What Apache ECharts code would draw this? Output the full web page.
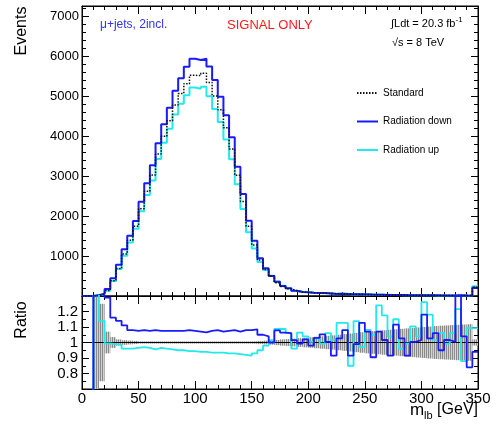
<!DOCTYPE html>
<html>
<head>
<meta charset="utf-8">
<script src="https://cdn.jsdelivr.net/npm/echarts@6/dist/echarts.min.js"></script>
<style>html,body{margin:0;padding:0;background:#fff;}#c{width:502px;height:428px;}</style>
</head>
<body>
<div id="c"></div>
<script>
// ---- data (5 GeV bins from 0 to 350 GeV, last bin includes overflow) ----
const xMin = 0;
const binWidth = 5;
const standard = [0,0,12,40,135,381,687,1051,1396,1744,2183,2620,3025,3551,3993,4380,4775,5062,5308,5516,
  5514,5568,5340,5000,4654,4205,3676,3021,2361,1744,1275,897,665,500,332,235,181,131,100,90,
  82,76,70,64,58,53,49,45,41,38,35,32,30,28,26,24,22,21,19,18,17,16,15,14,13,12,12,11,10,221];
const radDown = [0,0,20,60,175,442,783,1167,1508,1875,2358,2817,3267,3817,4292,4708,5133,5442,5733,5930,
  5900,5930,5740,5400,4980,4520,3970,3233,2550,1883,1383,942,692,500,358,250,192,133,100,92,
  80,78,74,64,53,54,53,41,41,43,37,29,32,28,24,27,23,19,19,18,20,16,16,13,13,12,16,11,8,208];
const radUp = [0,0,25,46,134,377,677,1009,1340,1683,2118,2528,2889,3427,3833,4183,4536,4809,5016,5213,
  5183,5234,4993,4675,4352,3910,3419,2795,2172,1596,1186,852,652,508,361,255,192,126,107,94,
  82,78,70,68,59,60,55,38,47,37,38,34,37,33,27,28,21,21,21,19,21,19,15,15,13,13,15,10,11,242];
const ratioDown = [0,0,1.6,1.5,1.29,1.16,1.14,1.11,1.08,1.075,1.08,1.075,1.08,1.075,1.075,1.075,1.075,1.075,1.08,1.075,
  1.07,1.065,1.075,1.08,1.07,1.075,1.08,1.07,1.08,1.08,1.085,1.05,1.04,1.0,1.078,1.064,1.06,1.015,0.993,1.02,
  0.98,1.03,1.053,1.004,0.915,1.027,1.08,0.915,0.99,1.127,1.07,0.905,1.07,1.016,0.915,1.115,1.027,0.915,1.004,1.016,
  1.18,1.027,1.06,0.95,1.016,1.004,1.30,1.04,0.84,0.94];
const ratioUp = [0,0,1.6,1.14,0.995,0.99,0.985,0.96,0.96,0.965,0.97,0.965,0.955,0.965,0.96,0.955,0.95,0.95,0.945,0.945,
  0.94,0.94,0.935,0.935,0.935,0.93,0.93,0.925,0.92,0.915,0.93,0.95,0.98,1.015,1.087,1.087,1.06,0.96,1.064,1.04,
  1.005,1.027,0.993,1.06,1.015,1.127,1.127,0.85,1.138,0.97,1.082,1.05,1.24,1.175,1.04,1.15,0.96,0.993,1.104,1.04,
  1.26,1.18,1.015,1.06,0.993,1.06,1.215,0.88,1.093,1.093];
const statErr = [0,0,0.6,0.25,0.07,0.035,0.02,0.015,0.012,0.01,0.007,0.007,0.007,0.007,0.007,0.007,0.007,0.007,0.007,0.007,
  0.007,0.007,0.007,0.007,0.007,0.007,0.007,0.007,0.007,0.007,0.008,0.01,0.012,0.014,0.017,0.02,0.022,0.025,0.028,0.031,
  0.034,0.037,0.04,0.043,0.046,0.05,0.054,0.058,0.062,0.066,0.07,0.073,0.076,0.079,0.082,0.085,0.088,0.091,0.094,0.097,
  0.1,0.103,0.106,0.108,0.11,0.112,0.114,0.116,0.118,0.02];
const legendNames = ['Standard','Radiation down','Radiation up'];

const FONT = 'Liberation Sans, Arial, sans-serif';
const BLUE = '#1a1aff', CYAN = '#22eaea';

function toStep(arr){
  const d = arr.map((v,k)=>[xMin + k*binWidth, v]);
  d.push([xMin + arr.length*binWidth, arr[arr.length-1]]);
  return d;
}
const bandData = statErr.map((e,k)=>[xMin+k*binWidth, xMin+(k+1)*binWidth, 1-e, 1+e]).filter(d=>d[3]>d[2]);

// hatch pattern
const pc = document.createElement('canvas');
pc.width = 2; pc.height = 2;
const pctx = pc.getContext('2d');
pctx.fillStyle = '#d2d2d2'; pctx.fillRect(0,0,2,2);
pctx.fillStyle = '#8a8a8a'; pctx.fillRect(0,0,1,2);

const chart = echarts.init(document.getElementById('c'), null, {renderer:'canvas'});

const tickCommon = {inside:true, length:8, lineStyle:{color:'#000', width:1}};
const minorCommon = {show:true, length:4, lineStyle:{color:'#000', width:1}};
function xAx(grid, pos, showLabel){
  return {type:'value', gridIndex:grid, position:pos, min:0, max:350, interval:50,
    axisLine:{show:true, onZero:false, lineStyle:{color:'#000', width:1}},
    axisTick:Object.assign({show:true}, tickCommon),
    minorTick:Object.assign({splitNumber:5}, minorCommon),
    splitLine:{show:false},
    axisLabel:{show:showLabel, fontFamily:FONT, fontSize:15, color:'#000', margin:2}
  };
}
function yAx(grid, pos, cfg, showLabel){
  return Object.assign({type:'value', gridIndex:grid, position:pos,
    axisLine:{show:true, onZero:false, lineStyle:{color:'#000', width:1}},
    axisTick:Object.assign({show:true}, tickCommon, {length:7}),
    splitLine:{show:false}
  }, cfg, {axisLabel:Object.assign({show:showLabel}, cfg.axisLabel||{})});
}

const topY = {min:0, max:7250, interval:1000,
  minorTick:Object.assign({splitNumber:5}, minorCommon),
  axisLabel:{fontFamily:FONT, fontSize:13, color:'#000', margin:3, showMaxLabel:true,
    formatter:v=> (v>0 && v%1000===0) ? String(v) : ''}};
const ratY = {min:0.7, max:1.3, interval:0.1,
  minorTick:Object.assign({splitNumber:2}, minorCommon),
  axisLabel:{fontFamily:FONT, fontSize:15, color:'#000', margin:4,
    formatter:v=> (v>0.75 && v<1.25) ? String(Math.round(v*10)/10) : ''}};

const option = {
  animation:false,
  backgroundColor:'#fff',
  grid:[
    {left:82, right:24, top:6, height:290, show:true, borderColor:'#000', borderWidth:1, backgroundColor:'transparent'},
    {left:82, right:24, top:296, height:93, show:true, borderColor:'#000', borderWidth:1, backgroundColor:'transparent'}
  ],
  xAxis:[ xAx(0,'bottom',false), xAx(0,'top',false), xAx(1,'bottom',true), xAx(1,'top',false) ],
  yAxis:[ yAx(0,'left',topY,true), yAx(0,'right',topY,false), yAx(1,'left',ratY,true), yAx(1,'right',ratY,false) ],
  legend:{
    orient:'vertical', left:351, top:81, itemGap:14.5, itemWidth:21, itemHeight:14,
    data:legendNames, selectedMode:false,
    itemStyle:{opacity:0, borderWidth:0},
    textStyle:{fontFamily:FONT, fontSize:10, color:'#000', lineHeight:14}
  },
  series:[
    {name:'Radiation up', type:'line', xAxisIndex:0, yAxisIndex:0, step:'end', symbol:'none',
      data:toStep(radUp), lineStyle:{color:CYAN, width:2}, itemStyle:{color:CYAN}},
    {name:'Radiation down', type:'line', xAxisIndex:0, yAxisIndex:0, step:'end', symbol:'none',
      data:toStep(radDown), lineStyle:{color:BLUE, width:2}, itemStyle:{color:BLUE}},
    {name:'Standard', type:'line', xAxisIndex:0, yAxisIndex:0, step:'end', symbol:'none',
      data:toStep(standard), lineStyle:{color:'#111', width:1.5, type:[1.5,1.5]}, itemStyle:{color:'#111'}, z:3},
    {name:'band', type:'custom', xAxisIndex:2, yAxisIndex:2, data:bandData, encode:{x:[0,1], y:[2,3]},
      renderItem:function(params, api){
        const p1 = api.coord([api.value(0), api.value(3)]);
        const p2 = api.coord([api.value(1), api.value(2)]);
        const cs = params.coordSys;
        const r = echarts.graphic.clipRectByRect({x:p1[0], y:p1[1], width:p2[0]-p1[0], height:p2[1]-p1[1]},
          {x:cs.x, y:cs.y, width:cs.width, height:cs.height});
        if(!r) return null;
        return {type:'rect', shape:r, style:{fill:{image:pc, repeat:'repeat'}}};
      }, z:1},
    {name:'unity', type:'line', xAxisIndex:2, yAxisIndex:2, symbol:'none', data:[[0,1],[350,1]],
      lineStyle:{color:'#000', width:1.2}, z:2},
    {name:'ratioUp', type:'line', xAxisIndex:2, yAxisIndex:2, step:'end', symbol:'none', clip:true,
      data:toStep(ratioUp), lineStyle:{color:CYAN, width:1.8}, z:3},
    {name:'ratioDown', type:'line', xAxisIndex:2, yAxisIndex:2, step:'end', symbol:'none', clip:true,
      data:toStep(ratioDown), lineStyle:{color:BLUE, width:1.8}, z:4}
  ],
  graphic:[
    {type:'text', x:22, y:31, rotation:Math.PI/2, style:{text:'Events', fontFamily:FONT, fontSize:16, fill:'#000', align:'center', verticalAlign:'middle'}},
    {type:'text', x:22, y:320, rotation:Math.PI/2, style:{text:'Ratio', fontFamily:FONT, fontSize:16, fill:'#000', align:'center', verticalAlign:'middle'}},
    {type:'text', x:100, y:25, style:{text:'\u03bc+jets, 2incl.', fontFamily:FONT, fontSize:12, fill:'#3434ee', align:'left', verticalAlign:'middle'}},
    {type:'text', x:227, y:25, style:{text:'SIGNAL ONLY', fontFamily:FONT, fontSize:13, fill:'#ff1a1a', align:'left', verticalAlign:'middle'}},
    {type:'text', x:391, y:24, style:{text:'{a|\u222bLdt = 20.3 fb}{b|-1}', fontFamily:FONT, fill:'#000', align:'left', verticalAlign:'middle',
      rich:{a:{fontFamily:FONT, fontSize:11, lineHeight:16, fill:'#000'}, b:{fontFamily:FONT, fontSize:8, lineHeight:16, verticalAlign:'top', fill:'#000'}}}},
    {type:'text', x:392, y:43, style:{text:'\u221as = 8 TeV', fontFamily:FONT, fontSize:11, fill:'#000', align:'left', verticalAlign:'middle'}},
    {type:'text', x:478, y:410, style:{text:'{m|m}{s|lb}{n| [GeV]}', fontFamily:FONT, fill:'#000', align:'right', verticalAlign:'middle',
      rich:{m:{fontFamily:FONT, fontSize:17, lineHeight:22, fill:'#000'}, s:{fontFamily:FONT, fontSize:11, lineHeight:22, verticalAlign:'bottom', fill:'#000'}, n:{fontFamily:FONT, fontSize:16, lineHeight:22, fill:'#000'}}}}
  ]
};
chart.setOption(option);
</script>
</body>
</html>
